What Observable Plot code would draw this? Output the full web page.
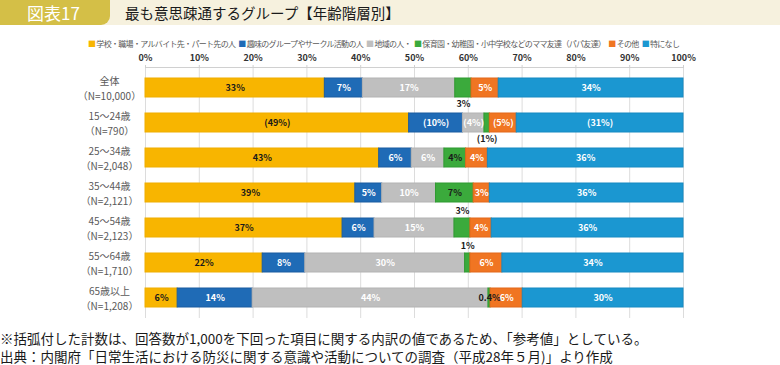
<!DOCTYPE html>
<html><head><meta charset="utf-8">
<script src="https://cdn.jsdelivr.net/npm/d3@7"></script>
<script src="https://cdn.jsdelivr.net/npm/@observablehq/plot@0.6"></script>
<style>
body{margin:0;background:#fff;font-family:"Noto Sans CJK JP","Noto Sans",sans-serif;}
#wrap{position:relative;width:780px;height:365px;overflow:hidden;background:#fff;}
#band{position:absolute;left:0;top:0;width:780px;height:25px;background:#F6F1DE;}
#tag{position:absolute;left:0;top:0;width:110px;height:25px;background:#D4BF47;border-bottom-right-radius:9px;color:#fff;font-size:17px;line-height:25px;text-indent:27px;}
#title{position:absolute;left:125px;top:0;height:25px;line-height:25px;font-size:14.5px;color:#1a1a1a;}
#legend{position:absolute;left:88px;top:37px;font-size:8px;line-height:14px;color:#595959;white-space:nowrap;letter-spacing:-0.68px;}
#legend span.sw{margin-right:1px;}
#legend span.it{margin-right:3px;}
#chart{position:absolute;left:0;top:48px;}
.note{position:absolute;left:0;font-size:13.5px;line-height:15px;color:#1a1a1a;white-space:nowrap;}
</style></head>
<body><div id="wrap">
<div id="band"></div><div id="tag">図表17</div>
<div id="title">最も意思疎通するグループ【年齢階層別】</div>
<div id="legend"></div>
<div id="chart"></div>
<div class="note" style="top:331px">※括弧付した計数は、回答数が1,000を下回った項目に関する内訳の値であるため、「参考値」としている。</div>
<div class="note" style="top:349px">出典：内閣府「日常生活における防災に関する意識や活動についての調査（平成28年５月)」より作成</div>
</div>
<script>
// ---- data ----
const groups = ["全体","15～24歳","25～34歳","35～44歳","45～54歳","55～64歳","65歳以上"];
const sampleSizes = [10000,790,2048,2121,2123,1710,1208];
const seriesNames = ["学校・職場・アルバイト先・パート先の人","趣味のグループやサークル活動の人","地域の人・","保育園・幼稚園・小中学校などのママ友達（パパ友達）","その他","特になし"];
const school  = [33,49,43,39,37,22,6];
const hobby   = [7,10,6,5,6,8,14];
const local   = [17,4,6,10,15,30,44];
const parents = [3,1,4,7,3,1,0.4];
const other   = [5,5,4,3,4,6,6];
const none    = [34,31,36,36,36,34,30];
const xTickLabels = [0,10,20,30,40,50,60,70,80,90,100];

// ---- styling config ----
const colors  = ["#F8B500","#1F6BB6","#BFBFBF","#3BAA3C","#F07522","#1B97D1"];
const borders = ["#EFAE00","#1A5CA0","#B3B3B3","#2F9A31","#E2691A","#168AC2"];
const darkText = [true,false,false,true,false,false];
const shiftBelow = [0,1];   // rows whose small green label sits below the bar
const shiftAbove = [4,5];   // rows whose small green label sits above the bar

const series = [school,hobby,local,parents,other,none];
const rowLabel = (g,i) => `${g}\n（N=${sampleSizes[i].toLocaleString("en-US")}）`;
const rowLabels = groups.map(rowLabel);

const rows = [];
groups.forEach((g,i) => {
  const vals = series.map(a => a[i]);
  const total = d3.sum(vals);
  let c = 0;
  vals.forEach((v,j) => {
    let t = v + "%";
    if (sampleSizes[i] < 1000) t = "(" + t + ")";
    rows.push({row: rowLabels[i], ri: i, s: j, x1: c/total, x2: (c+v)/total, label: t});
    c += v;
  });
});

// legend
const lg = document.getElementById("legend");
lg.innerHTML = seriesNames.map((n,j) => `<span class="sw" style="color:${colors[j]}">■</span><span class="it">${n}</span>`).join("");

const mid = d => (d.x1 + d.x2)/2;
const isShifted = d => d.s === 3 && (shiftBelow.includes(d.ri) || shiftAbove.includes(d.ri));
const txt = {x: mid, y: "row", text: "label", fontSize: 9, fontWeight: "bold"};

const marks = [
  Plot.ruleX(xTickLabels.map(v => v/100), {stroke: "#DCDCDC"}),
  Plot.frame({anchor: "top", stroke: "#D0D0D0"}),
  ...series.map((_,j) => Plot.barX(rows.filter(d => d.s === j), {x1: "x1", x2: "x2", y: "row", fill: colors[j], stroke: borders[j], strokeWidth: 1})),
  Plot.text(rows.filter(d => !isShifted(d) && darkText[d.s]), {...txt, fill: "#1a1a1a"}),
  Plot.text(rows.filter(d => !isShifted(d) && !darkText[d.s]), {...txt, fill: "#ffffff"}),
  Plot.text(rows.filter(d => d.s === 3 && shiftBelow.includes(d.ri)), {...txt, fill: "#1a1a1a", dy: 16}),
  Plot.text(rows.filter(d => d.s === 3 && shiftAbove.includes(d.ri)), {...txt, fill: "#1a1a1a", dy: -17}),
  Plot.axisX({anchor: "top", ticks: xTickLabels.map(v => v/100), tickFormat: d => Math.round(d*100) + "%", tickSize: 3, tickPadding: 4, fontSize: 9, fontWeight: "bold", fill: "#333", stroke: "#D0D0D0", label: null}),
  Plot.axisY({tickSize: 0, tickPadding: 36, textAnchor: "middle", lineHeight: 1.45, fontSize: 10, fill: "#595959", label: null})
];

const chart = Plot.plot({
  width: 780, height: 272,
  marginLeft: 145, marginRight: 97, marginTop: 19, marginBottom: 2,
  style: {fontFamily: '"Noto Sans CJK JP","Noto Sans",sans-serif', background: "transparent"},
  x: {domain: [0,1]},
  y: {domain: rowLabels, paddingInner: 0.454, paddingOuter: 0.28},
  marks
});
document.getElementById("chart").appendChild(chart);
</script>
</body></html>
